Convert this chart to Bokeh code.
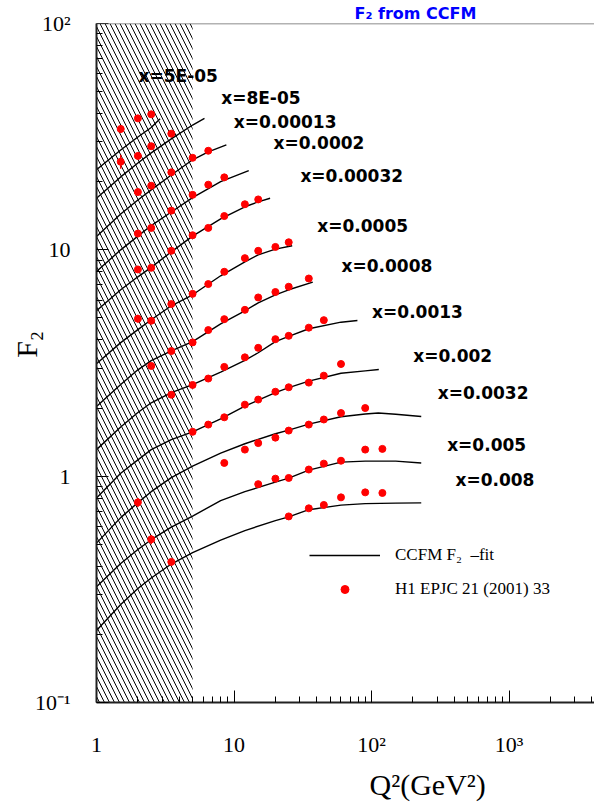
from bokeh.plotting import figure
from bokeh.models import (BoxAnnotation, Legend, LegendItem, Span,
                          ColumnDataSource, FixedTicker, Title)
from bokeh.embed import file_html
from bokeh.resources import INLINE
from bokeh.core.properties import value

# ---------------- data ----------------
x_bins = ["5E-05", "8E-05", "0.00013", "0.0002", "0.00032", "0.0005",
          "0.0008", "0.0013", "0.002", "0.0032", "0.005", "0.008"]

# CCFM F2 fit curves (Q2, F2) per x bin
fit_q2 = [
    [1, 1.5, 2, 2.5, 2.9],
    [1, 1.5, 2, 2.5, 3.5, 5, 6.1],
    [1, 1.5, 2, 2.5, 3.5, 5, 6.5, 8.8],
    [1, 1.5, 2, 2.5, 3.5, 5, 8, 12.8],
    [1, 1.5, 2, 2.5, 3.5, 5, 8, 12, 15, 18.3],
    [1, 1.5, 2, 2.5, 3.5, 5, 8, 12, 15, 20, 26.5],
    [1, 1.5, 2, 2.5, 3.5, 5, 8, 12, 15, 20, 25, 37.4],
    [1, 1.5, 2, 2.5, 3.5, 5, 8, 12, 15, 20, 25, 35, 60, 79],
    [1, 1.5, 2, 2.5, 3.5, 5, 8, 12, 20, 25, 35, 60, 90, 113],
    [1, 1.5, 2, 2.5, 3.5, 5, 8, 12, 20, 25, 35, 60, 90, 112, 150, 230],
    [1, 1.5, 2, 2.5, 3.5, 5, 8, 12, 20, 25, 35, 60, 90, 150, 230],
    [1, 1.5, 2, 2.5, 3.5, 5, 8, 12, 20, 25, 35, 60, 90, 150, 230],
]
fit_f2 = [
    [22.6, 27.6, 31.5, 34.7, 37.9],
    [16.9, 21.0, 24.2, 26.8, 30.9, 35.6, 38.1],
    [11.45, 14.4, 16.6, 18.4, 21.4, 25.0, 27.1, 29.1],
    [8.02, 10.0, 11.5, 12.8, 14.7, 17.0, 20.0, 22.4],
    [5.38, 6.66, 7.60, 8.37, 9.80, 11.5, 13.7, 15.5, 16.3, 16.9],
    [3.14, 3.89, 4.44, 4.91, 5.66, 6.33, 7.68, 8.85, 9.50, 10.07, 10.42],
    [2.03, 2.54, 2.95, 3.24, 3.58, 3.93, 4.71, 5.38, 5.83, 6.33, 6.66, 7.20],
    [1.31, 1.65, 1.91, 2.11, 2.34, 2.54, 2.88, 3.25, 3.51, 3.93, 4.15, 4.48, 4.79, 4.87],
    [0.801, 1.03, 1.18, 1.31, 1.45, 1.57, 1.79, 2.04, 2.34, 2.46, 2.63, 2.85, 2.92, 2.96],
    [0.506, 0.656, 0.764, 0.854, 0.985, 1.107, 1.263, 1.391, 1.540, 1.597, 1.697, 1.831, 1.882, 1.901, 1.878, 1.835],
    [0.325, 0.411, 0.474, 0.524, 0.596, 0.666, 0.780, 0.854, 0.941, 0.980, 1.063, 1.153, 1.165, 1.165, 1.144],
    [0.208, 0.271, 0.319, 0.355, 0.409, 0.459, 0.522, 0.575, 0.636, 0.661, 0.711, 0.745, 0.756, 0.760, 0.762],
]

# H1 EPJC 21 (2001) 33 data points (Q2, F2) per x bin
h1_q2 = [
    [1.5, 2, 2.5],
    [1.5, 2, 2.5, 3.5],
    [2, 2.5, 3.5, 5, 6.5],
    [2, 2.5, 3.5, 5, 6.5, 8.5],
    [2, 2.5, 3.5, 5, 6.5, 8.5, 12, 15],
    [2, 2.5, 3.5, 5, 6.5, 8.5, 12, 15, 20, 25],
    [2.5, 3.5, 5, 6.5, 8.5, 12, 15, 20, 25, 35],
    [3.5, 5, 6.5, 8.5, 12, 15, 20, 25, 35, 45],
    [5, 6.5, 8.5, 12, 15, 20, 25, 35, 45, 60],
    [2, 8.5, 12, 15, 20, 25, 35, 45, 60, 90],
    [2.5, 15, 20, 25, 35, 45, 60, 90, 120],
    [3.5, 25, 35, 45, 60, 90, 120],
]
h1_f2 = [
    [34.2, 38.1, 39.7],
    [24.5, 26.0, 28.7, 32.6],
    [18.0, 19.2, 22.0, 25.5, 27.4],
    [11.8, 12.5, 14.9, 17.5, 19.4, 20.9],
    [8.19, 8.33, 9.90, 11.6, 12.5, 14.1, 15.9, 16.7],
    [4.96, 4.86, 5.76, 6.39, 7.06, 8.00, 9.19, 9.90, 10.3, 10.8],
    [3.07, 3.57, 3.90, 4.42, 4.94, 5.43, 6.16, 6.51, 6.87, 7.47],
    [2.29, 2.53, 2.70, 3.04, 3.35, 3.69, 4.03, 4.17, 4.53, 4.89],
    [1.57, 1.69, 1.82, 2.07, 2.18, 2.36, 2.47, 2.59, 2.78, 3.13],
    [0.766, 1.144, 1.31, 1.40, 1.48, 1.59, 1.69, 1.78, 1.90, 2.00],
    [0.526, 0.922, 0.975, 0.982, 1.07, 1.136, 1.17, 1.31, 1.32],
    [0.418, 0.664, 0.721, 0.746, 0.806, 0.848, 0.843],
]

# visible error bars
err_q2 = [1.5, 1.5, 2, 2, 2.5]
err_lo = [32.9, 22.8, 4.77, 0.73, 0.50]
err_hi = [35.6, 26.3, 5.16, 0.80, 0.55]

# anchor (left, middle) of each "x=..." label, in data coordinates
label_q2 = [2.02, 8.07, 9.97, 19.4, 30.4, 40.3, 60.5, 101, 201, 303, 355, 408]
label_f2 = [58.6, 47.1, 36.8, 29.8, 21.3, 12.8, 8.50, 5.32, 3.38, 2.34, 1.373, 0.965]

q2_cut = 5.0          # hatched region: Q2 < 5 GeV^2
x_min, x_max = 1, 4186
y_min, y_max = 0.1, 100

x_ticks = [1, 10, 100, 1000]
x_tick_labels = ["1", "10", "10\u00b2", "10\u00b3"]
y_ticks = [0.1, 1, 10, 100]
y_tick_labels = ["10\u207b\u00b9", "1", "10", "10\u00b2"]

# ---------------- figure ----------------
W, H = 594, 811
p = figure(width=W, height=H, x_axis_type="log", y_axis_type="log",
           x_range=(x_min, x_max), y_range=(y_min, y_max),
           output_backend="svg", toolbar_location=None,
           min_border_left=96, min_border_right=0,
           min_border_top=22, min_border_bottom=109)
p.outline_line_color = None
p.xgrid.visible = False
p.ygrid.visible = False
p.background_fill_color = "white"
p.border_fill_color = "white"

# blue title in the top strip
p.title.text = "F\u2082 from CCFM"
p.title.align = "left"
p.title.offset = 258
p.title.standoff = 2
p.title.text_font = "DejaVu Sans"
p.title.text_font_size = "16px"
p.title.text_font_style = "bold"
p.title.text_color = "blue"

hatch = BoxAnnotation(right=q2_cut, fill_alpha=0, fill_color=None,
                      line_color=None, hatch_pattern="left_diagonal_line",
                      hatch_color="black", hatch_weight=1, hatch_scale=10,
                      level="underlay")
p.add_layout(hatch)

src = ColumnDataSource(dict(xs=fit_q2, ys=fit_f2))
fit_r = p.multi_line(xs="xs", ys="ys", source=src, line_color="black", line_width=1.4)

p.segment(x0=err_q2, y0=err_lo, x1=err_q2, y1=err_hi, line_color="red", line_width=1.5)
flat_q2 = [q for row in h1_q2 for q in row]
flat_f2 = [f for row in h1_f2 for f in row]
pts_r = p.scatter(flat_q2, flat_f2, size=7, fill_color="red", line_color="red")

p.text(x=label_q2, y=label_f2, text=["x=" + b for b in x_bins],
       text_font=value("DejaVu Sans"), text_font_style="bold",
       text_font_size="17px", text_align="left", text_baseline="middle",
       text_color="black")

# axes
minor_x = [m * 10 ** k for k in range(0, 4) for m in range(2, 10)]
minor_y = [m * 10.0 ** k for k in range(-1, 2) for m in range(2, 10)]
p.xaxis.ticker = FixedTicker(ticks=x_ticks, minor_ticks=minor_x)
p.yaxis.ticker = FixedTicker(ticks=y_ticks, minor_ticks=minor_y)
p.xaxis.major_label_overrides = dict(zip(x_ticks, x_tick_labels))
p.yaxis.major_label_overrides = dict(zip(y_ticks, y_tick_labels))
for ax in (p.xaxis[0], p.yaxis[0]):
    ax.axis_line_width = 2
    ax.axis_line_color = "#222222"
    ax.major_tick_in = 12
    ax.major_tick_out = 0
    ax.minor_tick_in = 6
    ax.minor_tick_out = 0
    ax.major_tick_line_color = "black"
    ax.minor_tick_line_color = "black"
    ax.major_tick_line_width = 1
    ax.minor_tick_line_width = 1
    ax.major_label_text_font = "Liberation Serif"
    ax.major_label_text_font_size = "22px"
    ax.major_label_text_color = "black"
p.xaxis.major_label_standoff = 29
p.yaxis.major_label_standoff = 26

# y-axis title (non-breaking spaces lift it above the frame centre, as in the reference)
p.yaxis.axis_label = "\u00a0" * 5 + "F\u2082"
p.yaxis.axis_label_text_font = "Liberation Serif"
p.yaxis.axis_label_text_font_size = "30px"
p.yaxis.axis_label_text_font_style = "normal"
p.yaxis.axis_label_text_color = "black"
p.yaxis.axis_label_standoff = -11

# x-axis title under the axis, toward the right
p.add_layout(Title(text="Q\u00b2(GeV\u00b2)", align="left", offset=273,
                   text_font="Liberation Serif", text_font_size="30px",
                   text_font_style="normal", text_color="black", standoff=12), "below")

p.add_layout(Span(location=y_max, dimension="width", line_color="#666666", line_width=1.5))

legend = Legend(items=[LegendItem(label="CCFM F\u2082  \u2013fit", renderers=[fit_r]),
                       LegendItem(label="H1 EPJC 21 (2001) 33", renderers=[pts_r])],
                location=(213, 103), orientation="vertical",
                glyph_width=71, glyph_height=20, label_height=20,
                label_standoff=15, spacing=14, padding=10, margin=0,
                border_line_color=None, background_fill_alpha=0,
                label_text_font="Liberation Serif", label_text_font_size="17px",
                label_text_color="black")
p.add_layout(legend)

open("out.html", "w").write(file_html(p, INLINE))
